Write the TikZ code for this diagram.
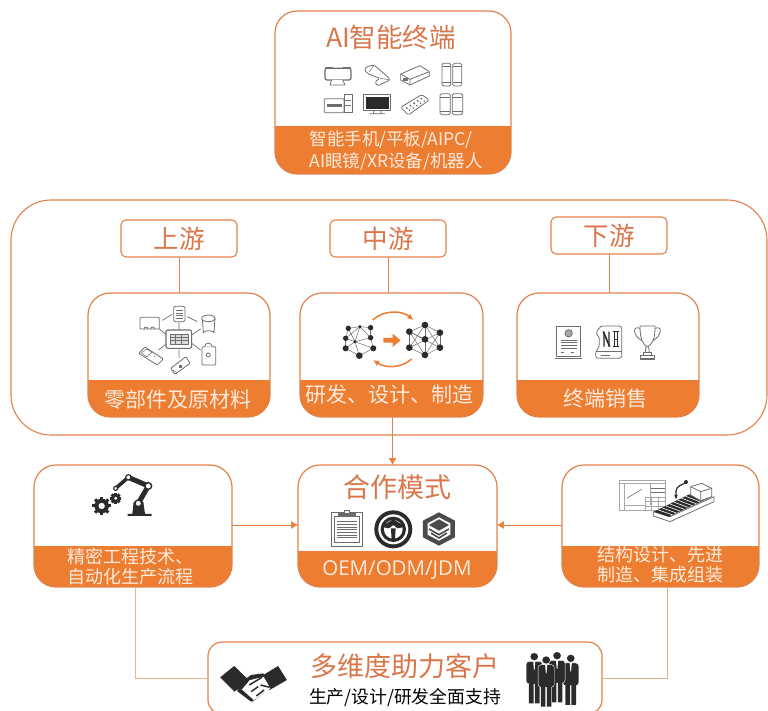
\documentclass[tikz,border=0pt]{standalone}
\usepackage{fontspec}
\setmainfont{Noto Sans CJK SC}
\newfontfamily\latinlight{Open Sans}
\usetikzlibrary{arrows.meta,calc}
\definecolor{bandor}{HTML}{ED7D31}
\definecolor{lineor}{HTML}{E2824A}
\definecolor{titleor}{HTML}{D9764A}
\definecolor{bandtxt}{HTML}{FCEBDD}
\definecolor{icong}{HTML}{6E6E6E}
\definecolor{icond}{HTML}{2B2B2B}
\tikzset{
 cardbox/.style={draw=lineor,line width=1.2pt,rounded corners=22pt,inner sep=0pt,outer sep=0pt},
 labelbox/.style={draw=lineor,line width=1.1pt,rounded corners=5pt,inner sep=0pt,outer sep=0pt,minimum width=116pt,minimum height=37pt,font=\fontsize{25.5}{28}\selectfont,text=titleor},
 band/.style={text=bandtxt,inner sep=0pt},
 title/.style={text=titleor,inner sep=0pt},
 conn/.style={draw=lineor,line width=0.7pt},
 arrowc/.style={conn,-{Latex[length=7pt,width=8pt,fill=bandor]}},
 pen/.style={draw=icong,line width=0.8pt,fill=white,line join=round},
 thin pen/.style={draw=icong,line width=0.5pt},
 zoom/.style n args={3}{shift={(#1,#2)},x=#3 pt,y=-#3 pt},
}
\newcommand{\card}[6]{%
 \begin{scope}
 \clip[rounded corners=22pt] (#2,#3) rectangle (#4,#5);
 \fill[bandor] (#2,#6) rectangle (#4,#5);
 \end{scope}
 \node[cardbox,minimum width={(#4-#2)*1pt},minimum height={(#5-#3)*1pt}] (#1) at ({(#2+#4)/2},{(#3+#5)/2}) {};
}
\newcommand{\gearicon}[3]{%
 \begin{scope}[shift={(#1,#2)}]
 \foreach \a in {0,45,...,315}{\draw[icond,line width=3pt] (\a:#3*.8) -- (\a:#3*1.28);}
 \fill[icond,even odd rule] (0,0) circle (#3) (0,0) circle (#3*.45);
 \end{scope}}
\newcommand{\phonepair}[4]{%
 \draw[pen,rounded corners=1.5pt] (#1,#3) rectangle ({(#1+#2)/2-3},#4);
 \draw[pen,rounded corners=1.5pt] ({(#1+#2)/2+3},#3) rectangle (#2,#4);
 \draw[thin pen] (#1,#3+10) -- ({(#1+#2)/2-3},#3+10) ({(#1+#2)/2+3},#3+10) -- (#2,#3+10) (#1,#4-10) -- ({(#1+#2)/2-3},#4-10) ({(#1+#2)/2+3},#4-10) -- (#2,#4-10);
}
\newcommand{\person}[2]{%
 \begin{scope}[shift={(#1,#2)}]
 \fill[icond] (0,10) circle (11);
 \fill[icond,draw=white,line width=.4pt,rounded corners=3pt] (-23,24) rectangle (23,92);
 \fill[icond] (-15,88) rectangle (-2,150) (2,88) rectangle (15,150);
 \fill[white] (-3,24) -- (3,24) -- (1,50) -- (-1,50) -- cycle;
 \end{scope}}
\begin{document}
\begin{tikzpicture}[x=1pt,y=-1pt]
\useasboundingbox (0,0) rectangle (768,711);
\fill[white] (0,0) rectangle (768,711);

% --- outer frame
\node[draw=lineor,line width=1.1pt,rounded corners=40pt,inner sep=0pt,minimum width=756pt,minimum height=235pt] (frame) at (389,317.5) {};

% --- cards
\card{top}{275}{11}{511}{174}{126}
\card{up}{88}{293}{270}{417}{380}
\card{mid}{300}{293}{483}{417}{380}
\card{down}{517}{293}{699}{417}{380}
\card{left}{34}{465}{232}{587}{546}
\card{model}{298}{465}{497}{587}{551}
\card{right}{562}{465}{759}{587}{546}

% --- bottom card
\node[cardbox,rounded corners=14pt,minimum width=394pt,minimum height=72pt] (bottom) at (405,678) {};

% --- labels
\node[labelbox] (lup) at (179,238.5) {上游};
\node[labelbox] (lmid) at (388,238.5) {中游};
\node[labelbox] (ldown) at (609,235.5) {下游};

% --- connectors
\draw[conn] (lup.south) -- (lup.south |- up.north);
\draw[conn] (lmid.south) -- (lmid.south |- mid.north);
\draw[conn] (ldown.south) -- (ldown.south |- down.north);
\coordinate (midout) at ($(mid.south)+(1,0)$);
\draw[arrowc] (midout) -- (midout |- model.north);
\draw[arrowc] (left.east |- 0,525) -- (model.west |- 0,525);
\draw[arrowc] (right.west |- 0,525) -- (model.east |- 0,525);
\coordinate (lftdrop) at (135,587);
\coordinate (rgtdrop) at (667,587);
\draw[draw=lineor!60,line width=0.7pt] (lftdrop) -- (135,678) -- (bottom.west |- 0,678);
\draw[draw=brown!60,line width=0.7pt] (rgtdrop) -- (667,678) -- (bottom.east |- 0,678);

% --- texts
\node[title,font=\fontsize{26.5}{28}\selectfont] (t1) at (391,37) {AI智能终端};
\node[band,font=\fontsize{17.5}{20}\selectfont] (t2) at (391,139.5) {智能手机/平板/AIPC/};
\node[band,font=\fontsize{17.5}{20}\selectfont] (t3) at (396,161.5) {AI眼镜/XR设备/机器人};
\node[band,font=\fontsize{21}{24}\selectfont] (t4) at (178,400) {零部件及原材料};
\node[band,font=\fontsize{21}{24}\selectfont] (t5) at (389,395) {研发、设计、制造};
\node[band,font=\fontsize{21}{24}\selectfont] (t6) at (605,399) {终端销售};
\node[band,font=\fontsize{18}{20}\selectfont] (t7) at (130,557) {精密工程技术、};
\node[band,font=\fontsize{18}{20}\selectfont] (t8) at (130,577) {自动化生产流程};
\node[title,font=\fontsize{27}{30}\selectfont] (t9) at (397,487) {合作模式};
\node[band,font=\latinlight\fontsize{20.5}{22}\selectfont] (t10) at (397,570) {OEM/ODM/JDM};
\node[band,font=\fontsize{18}{20}\selectfont] (t11) at (660,555) {结构设计、先进};
\node[band,font=\fontsize{18}{20}\selectfont] (t12) at (660,575) {制造、集成组装};
\node[title,font=\fontsize{27}{30}\selectfont] (t13) at (405,666) {多维度助力客户};
\node[inner sep=0pt,font=\fontsize{17.8}{20}\selectfont,text=black] (t14) at (405,698) {生产/设计/研发全面支持};

% --- icons: top card (zoom 3x, origin 270,0)
\begin{scope}[zoom={270}{0}{0.3333}]
 \draw[pen,line width=1.2pt,rounded corners=2pt] (165,205) rectangle (243,240);
 \draw[pen] (185,240) -- (180,255) -- (225,255) -- (218,240);
 \draw[pen,line width=1.2pt,rounded corners=1pt] (166,203) -- (190,203) (218,203) -- (242,203);
 % scroll
 \draw[pen,rounded corners=1.5pt] (290,200) -- (312,195) -- (355,232) -- (360,240) -- (322,258) -- (315,245) -- (330,235) -- (295,222) -- (283,210) -- cycle;
 \draw[thin pen] (312,195) -- (298,215) (360,240) -- (330,235);
 % box
 \draw[pen] (392,222) -- (450,197) -- (478,215) -- (478,228) -- (420,255) -- (392,240) -- cycle;
 \draw[pen] (392,222) -- (420,238) -- (478,215) (420,238) -- (420,255);
 \fill[icong] (400,234) rectangle (414,243);
 \phonepair{516}{575}{190}{258}
 % pc
 \draw[pen,rounded corners=1pt] (163,296) rectangle (222,338);
 \draw[pen] (222,283) rectangle (246,338);
 \fill[icong] (172,313) rectangle (215,322);
 \draw[thin pen] (225,300) -- (244,300) (225,315) -- (244,315);
 % dark monitor
 \draw[pen,line width=1pt] (282,285) rectangle (361,333);
 \fill[icond] (287,290) rectangle (356,326);
 \draw[pen] (298,341) -- (345,341) (312,333) -- (310,341) (332,333) -- (334,341);
 % remote
 \draw[pen,rounded corners=1.5pt] (392,322) -- (455,284) -- (478,300) -- (415,345) -- cycle;
 \foreach \i in {0,1,2,3,4}{\draw[thin pen,line width=1.2pt,dash pattern=on 2pt off 2pt] ({408+\i*11},{322-\i*7}) -- ({420+\i*11},{332-\i*7});}
 \phonepair{510}{578}{281}{344}
\end{scope}

% --- icons: upstream and midstream (zoom 3x, origin 80,285)
\begin{scope}[zoom={80}{285}{0.3333}]
 \draw[thin pen,line width=.7pt] (258,148)--(238,132) (247,106)--(276,88) (297,112)--(297,135) (352,110)--(322,95) (335,150)--(362,132) (335,175)--(362,195) (297,195)--(297,218) (258,178)--(235,195);
 \draw[pen,line width=1.1pt,rounded corners=2pt] (258,135) rectangle (335,190);
 \draw[pen,fill=icong!25] (270,148) rectangle (325,178);
 \draw[thin pen,line width=1pt] (270,158)--(325,158) (270,168)--(325,168) (288,148)--(288,178) (306,148)--(306,178);
 % monitor
 \draw[pen,rounded corners=1pt] (180,97) rectangle (238,132);
 \draw[thin pen,line width=.8pt] (192,132) arc[start angle=180,end angle=360,radius=6] (212,132) arc[start angle=180,end angle=360,radius=6];
 % doc
 \draw[pen,rounded corners=2pt] (281,64) rectangle (315,110);
 \draw[thin pen] (288,75)--(308,75) (288,85)--(308,85) (288,92)--(308,92) (288,100)--(308,100);
 % cylinder
 \draw[pen] (367,100) -- (370,143) arc[start angle=180,end angle=360,x radius=16,y radius=6] -- (405,100);
 \draw[pen] (385,100) ellipse [x radius=20,y radius=10];
 % bag
 \draw[pen,rounded corners=1pt] (366,185) rectangle (407,240);
 \draw[pen] (374,185) arc[start angle=180,end angle=360,radius=11];
 \draw[pen] (385,210) circle (6);
 % stick 1
 \draw[pen,rounded corners=1pt] (176,205) -- (195,186) -- (250,222) -- (232,240) -- cycle;
 \fill[icong] (224,214) circle (2);
 \draw[thin pen] (184,204) -- (200,192) -- (216,202) -- (200,216) -- cycle;
 % stick 2
 \draw[pen,rounded corners=1pt] (272,250) -- (318,215) -- (330,235) -- (285,268) -- cycle;
 \fill[icong] (296,240) rectangle (306,248);
 \draw[thin pen] (278,254) -- (290,263);
 % networks
 \foreach \xa/\ya/\xb/\yb in {805/130/840/125,840/125/872/128,805/130/797/160,872/128/872/158,797/160/797/190,872/158/880/190,797/190/838/212,880/190/838/212,805/130/825/170,840/125/825/170,872/158/825/170,797/160/825/170,797/190/825/170,825/170/838/212,825/170/880/190,840/125/872/158,840/125/797/160}{\draw[icong,line width=.5pt] (\xa,\ya) -- (\xb,\yb);}
 \foreach \x/\y/\r in {805/130/8,840/125/5,872/128/8,797/160/8,872/158/8,825/170/5,797/190/9,880/190/9,838/212/10}{\fill[icond] (\x,\y) circle (\r);}
 \foreach \xa/\ya/\xb/\yb in {988/140/1035/120,1035/120/1080/143,1080/143/1080/188,1080/188/1035/210,1035/210/988/188,988/188/988/140,1035/120/1035/210,988/140/1080/188,988/188/1080/143,988/140/1035/163,1035/120/988/188,1035/120/1080/188,1035/210/988/140,1035/210/1080/143}{\draw[icong,line width=.5pt] (\xa,\ya) -- (\xb,\yb);}
 \foreach \x/\y in {988/140,1035/120,1080/143,1035/163,988/188,1080/188,1035/210}{\fill[icond] (\x,\y) circle (10);}
 \draw[bandor,line width=1.5pt,-{Latex[length=6pt,width=6pt]}] (878,105) .. controls (910,75) and (965,75) .. (1000,105);
 \draw[bandor,line width=1.5pt,-{Latex[length=6pt,width=6pt]}] (995,222) .. controls (965,250) and (915,250) .. (880,225);
 \fill[bandor] (910,159) -- (938,159) -- (938,146) -- (962,166) -- (938,186) -- (938,173) -- (910,173) -- cycle;
\end{scope}

% --- icons: downstream (zoom 3x, origin 510,290)
\begin{scope}[zoom={510}{290}{0.3333}]
 \draw[pen] (140,108) rectangle (212,200);
 \draw[pen,line width=1.2pt] (135,205) -- (217,205);
 \draw[pen,fill=icong!60] (176,130) circle (11);
 \foreach \y in {150,158,166,174}{\draw[thin pen] (152,\y) -- (200,\y);}
 \draw[thin pen,line width=1.5pt,dash pattern=on 3pt off 7pt] (152,188) -- (200,188);
 % tablet
 \draw[pen,rounded corners=2.5pt] (272,108) -- (335,108) -- (335,205) -- (257,205) -- (257,185) -- (268,170) -- (268,140) -- (257,130) -- cycle;
 \draw[thin pen] (258,183) -- (335,183);
 \fill[icond] (280,125) rectangle (284,170) (295,125) rectangle (299,170);
 \draw[icond,line width=1.6pt] (280,125) -- (299,170);
 \draw[icond,line width=1.2pt] (308,125) -- (328,125) (308,170) -- (328,170) (312,148) -- (324,148);
 \draw[icond,line width=1.4pt] (314,125) -- (314,170) (322,125) -- (322,170);
 \draw[thin pen] (272,196) -- (300,196);
 % trophy
 \draw[pen,fill=none] (390,115) .. controls (365,105) and (370,140) .. (396,152);
 \draw[pen,fill=none] (435,115) .. controls (460,105) and (455,140) .. (428,152);
 \draw[pen] (390,108) -- (435,108) .. controls (436,150) and (425,165) .. (412,170) .. controls (400,165) and (390,150) .. (390,108) -- cycle;
 \draw[pen] (408,170) -- (416,170) -- (418,188) -- (406,188) -- cycle;
 \draw[pen] (400,188) rectangle (425,197);
 \draw[pen,line width=1.1pt] (391,197) rectangle (434,207);
\end{scope}

% --- icons: robot and model (zoom 3x, origin 25,460)
\begin{scope}[zoom={25}{460}{0.3333}]
 \gearicon{230}{138}{22}
 \gearicon{272}{115}{13}
 \fill[icond] (308,168) rectangle (380,162) (322,162) -- (360,162) -- (355,125) -- (326,125) -- cycle;
 \draw[icond,line width=5pt] (340,130) -- (370,78);
 \draw[icond,line width=5pt] (370,78) -- (310,52);
 \draw[icond,line width=3.5pt] (310,52) -- (272,85);
 \draw[icond,line width=1.4pt,fill=white] (340,130) circle (10);
 \draw[icond,line width=1.4pt,fill=white] (370,78) circle (10);
 \draw[icond,line width=1.2pt,fill=white] (310,52) circle (8);
 \draw[icond,line width=1.2pt,fill=white] (272,85) circle (6);
 % clipboard
 \draw[icond!70,line width=.9pt,fill=white] (918,158) rectangle (1012,258);
 \draw[icond!70,line width=.9pt] (928,168) rectangle (1002,248);
 \fill[icond!70] (940,160) rectangle (992,172);
 \draw[icond!70,line width=.9pt,fill=white] (958,150) rectangle (974,160);
 \foreach \y in {185,193,...,240}{\draw[icong,line width=.5pt] (936,\y) -- (995,\y);}
 % wheel
 \fill[icond] (1105,208) circle (57);
 \fill[white] (1105,208) circle (45);
 \fill[icond] (1105,208) circle (38);
 \fill[white] (1105,208) circle (28);
 \fill[icond] (1068,200) -- (1105,178) -- (1142,200) -- (1118,205) -- (1105,195) -- (1092,205) -- cycle;
 \fill[icond] (1098,205) -- (1112,205) -- (1110,238) -- (1100,238) -- cycle;
 % hex
 \fill[icond!85] (1242,157) -- (1290,182) -- (1290,232) -- (1242,257) -- (1194,232) -- (1194,182) -- cycle;
 \fill[white] (1242,172) -- (1276,190) -- (1276,224) -- (1242,242) -- (1208,224) -- (1208,190) -- cycle;
 \fill[icond!85] (1242,178) -- (1272,195) -- (1242,212) -- (1212,195) -- cycle;
 \draw[icond!85,line width=1.6pt] (1212,207) -- (1242,224) -- (1272,207);
 \draw[icond!85,line width=1.6pt] (1218,219) -- (1242,234) -- (1266,219);
\end{scope}

% --- icon: conveyor (zoom 3x, origin 490,460)
\begin{scope}[zoom={490}{460}{0.3333}]
 \draw[icong!60,line width=.5pt] (388,60) rectangle (525,152);
 \draw[icong!60,line width=.5pt] (388,70) -- (525,70) (403,70) -- (403,152) (403,135) -- (465,135) (480,70) -- (480,135);
 \draw[icong!60,line width=.5pt] (465,112) rectangle (525,152) (465,125) -- (525,125) (465,138) -- (525,138) (485,112) -- (485,152) (505,112) -- (505,152);
 \draw[icong,line width=.6pt] (410,115) -- (455,88);
 \draw[icong,line width=.6pt] (482,85) -- (525,85) (482,97) -- (525,97);
 \draw[pen] (490,155) -- (540,170) -- (672,110) -- (672,125) -- (540,185) -- (490,168) -- cycle;
 \fill[icond] (492,155) -- (610,97) -- (655,115) -- (535,170) -- cycle;
 \foreach \t in {1,2,...,9}{\draw[white,line width=.6pt] ({492+\t*11.8},{155-\t*5.8}) -- ({535+\t*12},{170-\t*5.5});}
 \draw[pen] (602,80) -- (635,70) -- (665,85) -- (665,110) -- (632,122) -- (602,105) -- cycle;
 \draw[pen] (602,80) -- (632,95) -- (665,85) (632,95) -- (632,122);
 \fill[icond] (553,105) -- (563,105) -- (558,118) -- cycle;
 \draw[icond,line width=1.2pt,rounded corners=4pt] (558,108) -- (558,82) -- (588,68);
 \fill[icond] (588,66) circle (6);
\end{scope}

% --- icons: bottom card
\begin{scope}[shift={(130,590)},x=0.3509pt,y=-0.3333pt]
 % handshake
 \fill[icond] (257,262) -- (297,228) -- (338,270) -- (298,305) -- cycle;
 \fill[icond] (360,268) -- (422,228) -- (447,270) -- (398,300) -- cycle;
 \fill[icond] (325,270) -- (345,255) -- (380,250) -- (402,292) -- (350,335) -- (305,300) -- cycle;
 \draw[white,line width=1pt,fill=white] (342,272) -- (380,262) -- (398,295) -- (352,330) -- (318,302) -- cycle;
 \fill[icond] (320,300) -- (352,330) -- (345,335) -- (305,303) -- cycle;
 \draw[icond,line width=1.5pt] (340,285) -- (376,262) (345,305) -- (365,290) (360,318) -- (382,300) (372,285) -- (398,292);
 % people
 \person{1152}{190}
 \person{1256}{195}
 \person{1217}{187}
 \person{1186}{200}
\end{scope}
\end{tikzpicture}
\end{document}
